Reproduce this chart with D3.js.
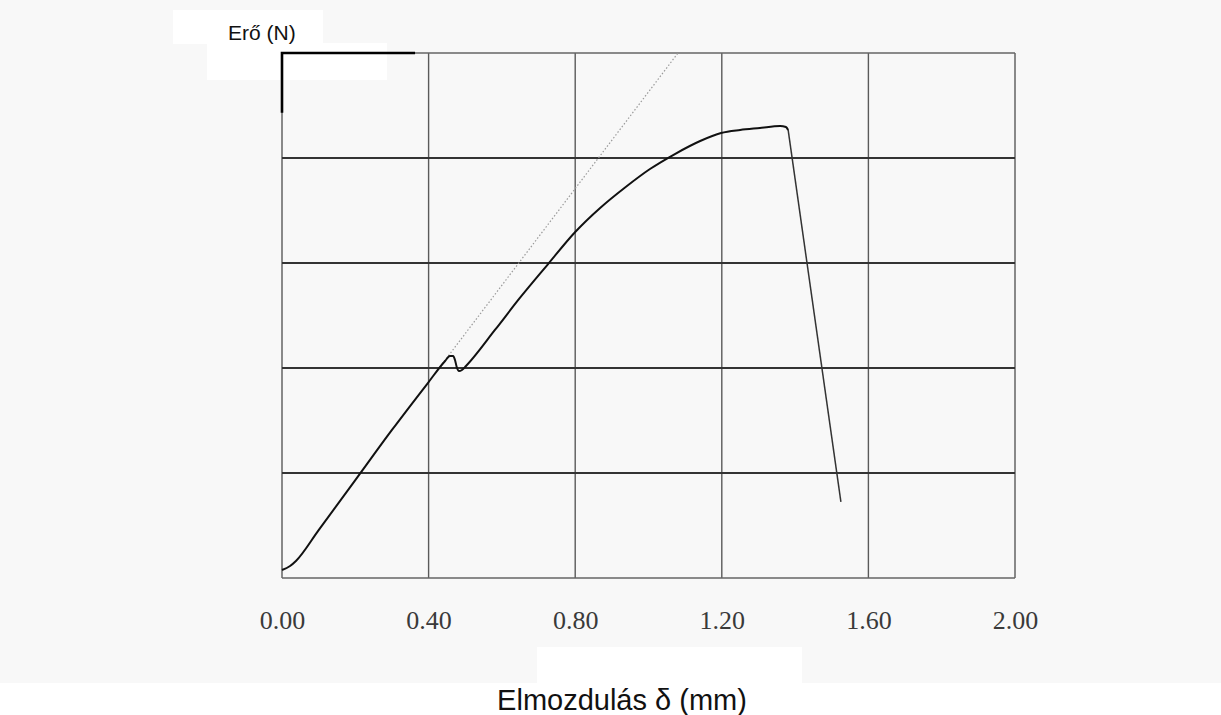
<!DOCTYPE html>
<html>
<head>
<meta charset="utf-8">
<script src="https://cdn.jsdelivr.net/npm/d3@7"></script>
<style>
  html, body { margin: 0; padding: 0; background: #f8f8f8; }
  svg { display: block; }
</style>
</head>
<body>
<svg id="chart" width="1221" height="715"></svg>
<script>
// displacement (mm) and force (grid units, the y axis carries no labels)
var disp  = [0, 0.022, 0.038, 0.100, 0.200, 0.300, 0.398, 0.445, 0.458, 0.467, 0.472, 0.4775, 0.483, 0.491, 0.502,
             0.581, 0.649, 0.726, 0.800, 0.868, 0.936, 1.004, 1.072, 1.141, 1.198, 1.250, 1.304,
             1.359, 1.375, 1.381, 1.525];
var force = [0.076, 0.114, 0.162, 0.456, 0.932, 1.410, 1.857, 2.067, 2.114, 2.114, 2.076, 2.000, 1.971, 1.981, 2.019,
             2.362, 2.667, 2.990, 3.295, 3.524, 3.719, 3.895, 4.038, 4.162, 4.238, 4.267, 4.286,
             4.305, 4.295, 4.267, 0.724];

// dotted initial-stiffness line
var tangentX = [0.431, 1.0805];
var tangentY = [2.01, 5.0];

var xTicks = [0, 0.4, 0.8, 1.2, 1.6, 2.0];
var yTicks = [0, 1, 2, 3, 4, 5];

var svg = d3.select('#chart');

var x = d3.scaleLinear().domain([0, 2]).range([282, 1015]);
var y = d3.scaleLinear().domain([0, 5]).range([578, 53]);

// white patches of the scanned original
svg.append('rect').attr('x', 173).attr('y', 10).attr('width', 150).attr('height', 34).attr('fill', '#fff');
svg.append('rect').attr('x', 207).attr('y', 43).attr('width', 180).attr('height', 37).attr('fill', '#fff');
svg.append('rect').attr('x', 537).attr('y', 647).attr('width', 265).attr('height', 37).attr('fill', '#fff');
svg.append('rect').attr('x', 0).attr('y', 683).attr('width', 1221).attr('height', 32).attr('fill', '#fff');

// grid
svg.append('g')
  .selectAll('line')
  .data(xTicks).enter()
  .append('line')
    .attr('x1', function (d) { return x(d); })
    .attr('x2', function (d) { return x(d); })
    .attr('y1', y(0))
    .attr('y2', y(5))
    .attr('stroke', '#5a5a5a')
    .attr('stroke-width', 1.4);

svg.append('g')
  .selectAll('line')
  .data(yTicks).enter()
  .append('line')
    .attr('x1', x(0))
    .attr('x2', x(2))
    .attr('y1', function (d) { return y(d); })
    .attr('y2', function (d) { return y(d); })
    .attr('stroke', function (d) { return (d === 0 || d === 5) ? '#666' : '#333'; })
    .attr('stroke-width', function (d) { return (d === 0 || d === 5) ? 1.6 : 1.8; });

// x axis numbers
var xAxis = d3.axisBottom(x)
  .tickValues(xTicks)
  .tickSize(0)
  .tickPadding(0)
  .tickFormat(d3.format('.2f'));

var gx = svg.append('g')
  .attr('transform', 'translate(0,' + 629 + ')')
  .call(xAxis);
gx.select('.domain').remove();
gx.selectAll('text')
  .attr('dy', 0)
  .attr('y', 0)
  .attr('fill', '#3a3a3a')
  .style('font-family', '"Liberation Serif", "Times New Roman", serif')
  .style('font-size', '26px');

// thick corner mark at top left
svg.append('path')
  .attr('d', 'M' + x(0) + ',' + y(4.43) + 'L' + x(0) + ',' + y(5) + 'L' + x(0.363) + ',' + y(5))
  .attr('fill', 'none')
  .attr('stroke', '#000')
  .attr('stroke-width', 2.6);

// tangent
svg.append('line')
  .attr('x1', x(tangentX[0])).attr('y1', y(tangentY[0]))
  .attr('x2', x(tangentX[1])).attr('y2', y(tangentY[1]))
  .attr('stroke', '#9a9a9a')
  .attr('stroke-width', 1.2)
  .attr('stroke-dasharray', '1.5,2');

// force-displacement curve
var pts = disp.map(function (d, i) { return [d, force[i]]; });
var line = d3.line()
  .x(function (d) { return x(d[0]); })
  .y(function (d) { return y(d[1]); })
  .curve(d3.curveMonotoneX);

svg.append('path')
  .datum(pts.slice(0, pts.length - 1))
  .attr('d', line)
  .attr('fill', 'none')
  .attr('stroke', '#111')
  .attr('stroke-width', 2);

svg.append('path')
  .datum(pts.slice(pts.length - 2))
  .attr('d', d3.line().x(function (d) { return x(d[0]); }).y(function (d) { return y(d[1]); }))
  .attr('fill', 'none')
  .attr('stroke', '#333')
  .attr('stroke-width', 1.5);

// titles
svg.append('text')
  .attr('x', 228).attr('y', 40)
  .style('font-family', 'Arial, "Liberation Sans", sans-serif')
  .style('font-size', '21px')
  .attr('fill', '#111')
  .text('Erő (N)');

svg.append('text')
  .attr('x', 622).attr('y', 710)
  .attr('text-anchor', 'middle')
  .style('font-family', 'Arial, "Liberation Sans", sans-serif')
  .style('font-size', '29px')
  .attr('fill', '#111')
  .text('Elmozdulás δ (mm)');
</script>
</body>
</html>
